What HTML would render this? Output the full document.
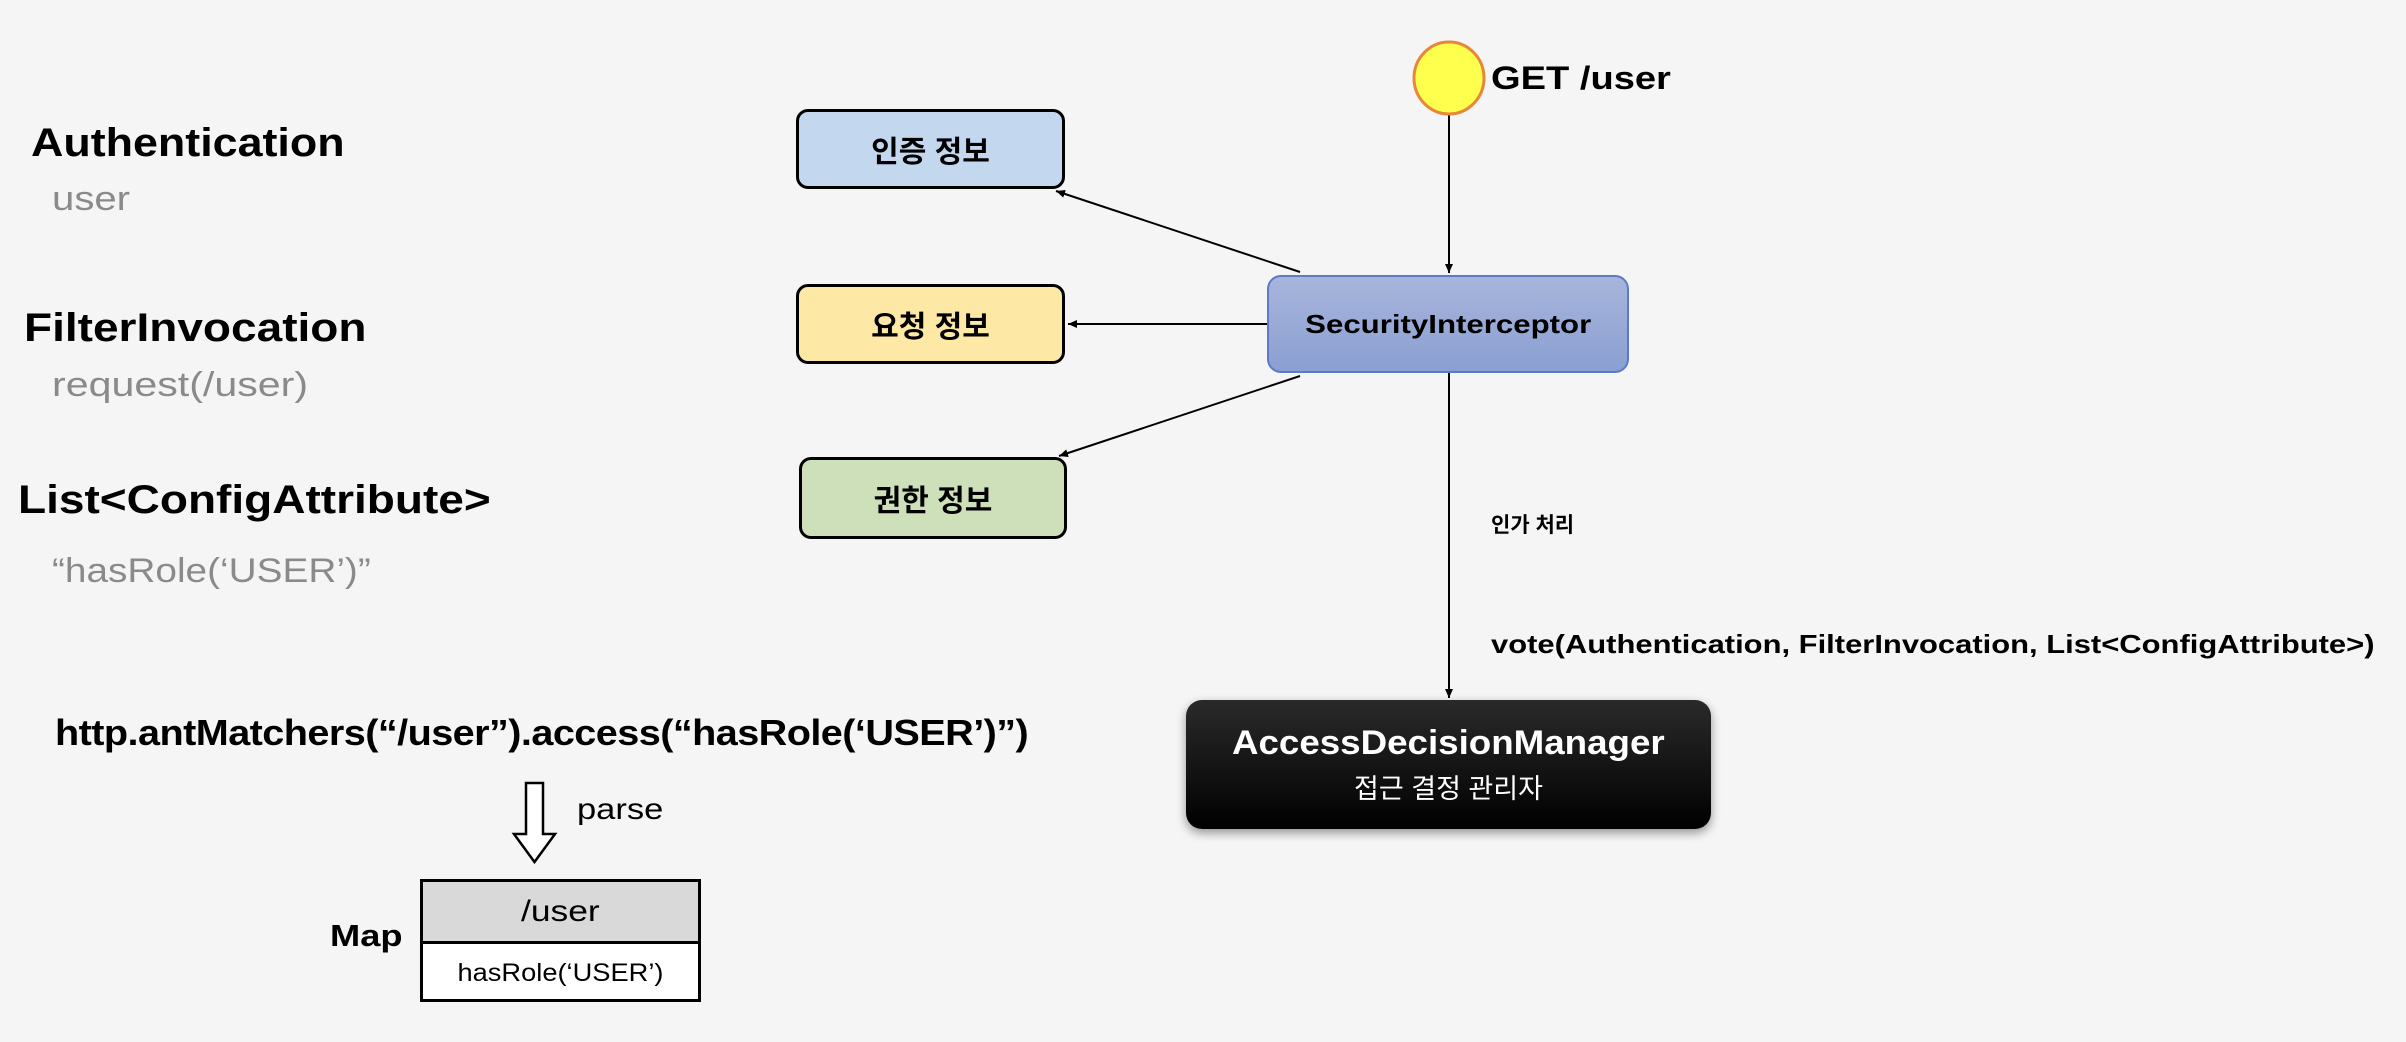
<!DOCTYPE html>
<html><head><meta charset="utf-8"><style>
body{margin:0;width:2406px;height:1042px;background:#f5f5f5;position:relative;overflow:hidden;font-family:"Liberation Sans","Noto Sans CJK KR",sans-serif}
.t{position:absolute;white-space:nowrap;line-height:1;transform-origin:0 50%}
.b{font-weight:bold}
.g{color:#8a8a8a}
.box{position:absolute;box-sizing:border-box;border:3px solid #000;border-radius:12px;display:flex;align-items:center;justify-content:center;font-weight:bold;font-size:30px}
</style></head><body>
<svg width="2406" height="1042" style="position:absolute;left:0;top:0">
<defs><marker id="a" markerWidth="10" markerHeight="10" refX="9" refY="5" orient="auto" markerUnits="userSpaceOnUse"><path d="M0,1 L9,5 L0,9 Z" fill="#000"/></marker></defs>
<g stroke="#000" stroke-width="2" fill="none">
<line x1="1449" y1="114" x2="1449" y2="273" marker-end="url(#a)"/>
<line x1="1449" y1="373" x2="1449" y2="698" marker-end="url(#a)"/>
<line x1="1300" y1="272" x2="1056" y2="191" marker-end="url(#a)"/>
<line x1="1267" y1="324" x2="1068" y2="324" marker-end="url(#a)"/>
<line x1="1300" y1="376" x2="1059" y2="456" marker-end="url(#a)"/>
</g>
<ellipse cx="1449" cy="78" rx="35" ry="36" fill="#ffff4d" stroke="#e8873a" stroke-width="3"/>
<path d="M526,783 L543,783 L543,834 L555,834 L534.5,862 L514,834 L526,834 Z" fill="#fff" stroke="#000" stroke-width="2.5"/>
</svg>
<div class="t b" style="left:1491px;top:62px;font-size:32px;transform:scaleX(1.19)">GET /user</div>
<div class="box" style="left:796px;top:109px;width:269px;height:80px;background:#c3d7ee">인증 정보</div>
<div class="box" style="left:796px;top:284px;width:269px;height:80px;background:#fde8a6">요청 정보</div>
<div class="box" style="left:799px;top:457px;width:268px;height:82px;background:#cde0b9">권한 정보</div>
<div class="box" style="left:1267px;top:275px;width:362px;height:98px;border:2px solid #5b7bc6;border-radius:14px;background:linear-gradient(#a8b5dc,#8a9fd2);font-size:26px"><span style="display:inline-block;transform:scaleX(1.2)">SecurityInterceptor</span></div>
<div class="box" style="left:1186px;top:700px;width:525px;height:129px;border:none;border-radius:16px;background:linear-gradient(#2a2a2a,#000);color:#fff;flex-direction:column;box-shadow:0 4px 10px rgba(0,0,0,.4)"><div style="font-size:34px;transform:scaleX(1.08)">AccessDecisionManager</div><div style="font-size:27px;font-weight:normal;margin-top:4px">접근 결정 관리자</div></div>
<div class="t b" style="left:1491px;top:515px;font-size:21px">인가 처리</div>
<div class="t b" style="left:1491px;top:631px;font-size:26px;transform:scaleX(1.19)">vote(Authentication, FilterInvocation, List&lt;ConfigAttribute&gt;)</div>
<div class="t b" style="left:31px;top:123px;font-size:40px;transform:scaleX(1.12)">Authentication</div>
<div class="t g" style="left:52px;top:182px;font-size:34px;transform:scaleX(1.18)">user</div>
<div class="t b" style="left:24px;top:308px;font-size:40px;transform:scaleX(1.15)">FilterInvocation</div>
<div class="t g" style="left:52px;top:368px;font-size:34px;transform:scaleX(1.21)">request(/user)</div>
<div class="t b" style="left:18px;top:480px;font-size:40px;transform:scaleX(1.15)">List&lt;ConfigAttribute&gt;</div>
<div class="t g" style="left:52px;top:554px;font-size:34px;transform:scaleX(1.14)">“hasRole(‘USER’)”</div>
<div class="t b" style="left:55px;top:715px;font-size:36px;letter-spacing:-0.5px;transform:scaleX(1.1)">http.antMatchers(“/user”).access(“hasRole(‘USER’)”)</div>
<div class="t" style="left:577px;top:795px;font-size:30px;transform:scaleX(1.15)">parse</div>
<div class="t b" style="left:330px;top:920px;font-size:31px;transform:scaleX(1.17)">Map</div>
<div style="position:absolute;left:420px;top:879px;width:281px;height:123px;box-sizing:border-box;border:3px solid #000;background:#fff">
<div style="height:59px;background:#d9d9d9;border-bottom:3px solid #000;display:flex;align-items:center;justify-content:center;font-size:30px"><span style="display:inline-block;transform:scaleX(1.18)">/user</span></div>
<div style="height:58px;display:flex;align-items:center;justify-content:center;font-size:25px"><span style="display:inline-block;transform:scaleX(1.09)">hasRole(‘USER’)</span></div>
</div>
</body></html>
